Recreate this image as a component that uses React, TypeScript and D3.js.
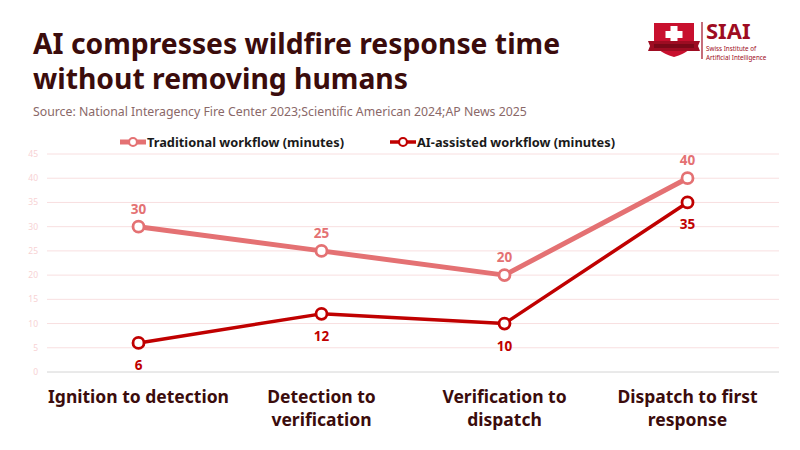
import React, { useEffect, useRef } from 'react';
import * as d3 from 'd3';

const categories = ['Ignition to detection', 'Detection to verification', 'Verification to dispatch', 'Dispatch to first response'];
const traditional = [30, 25, 20, 40];
const aiAssisted = [6, 12, 10, 35];
const yTicks = [0, 5, 10, 15, 20, 25, 30, 35, 40, 45];

const FONT = "'Noto Sans', 'Open Sans', sans-serif";

const App: React.FC = () => {
  const svgRef = useRef<SVGSVGElement | null>(null);

  useEffect(() => {
    if (!svgRef.current) return;
    const svg = d3.select(svgRef.current);
    svg.selectAll('*').remove();
    const width = 800;
    const height = 450;
    const margin = { top: 154, right: 21, bottom: 78, left: 47 };

    svg.append('rect').attr('width', width).attr('height', height).attr('fill', '#fff');

    // title
    const title = svg.append('text')
      .attr('font-family', FONT).attr('font-weight', 700).attr('font-size', 28.3)
      .attr('fill', '#3b0c0c');
    title.append('tspan').attr('x', 33).attr('y', 54).text('AI compresses wildfire response time');
    title.append('tspan').attr('x', 33).attr('y', 89).text('without removing humans');

    svg.append('text')
      .attr('x', 33).attr('y', 116)
      .attr('font-family', FONT).attr('font-size', 12.3)
      .attr('fill', '#8a6868')
      .text('Source: National Interagency Fire Center 2023;Scientific American 2024;AP News 2025');

    // logo
    const logo = svg.append('g').attr('transform', 'translate(648,20)');
    logo.append('path')
      .attr('d', 'M6,3 L46,3 L46,20 Q46,31 26,37 Q6,31 6,20 Z')
      .attr('fill', '#c8102e');
    logo.append('rect').attr('x', 22.5).attr('y', 6).attr('width', 7).attr('height', 17).attr('fill', '#fff');
    logo.append('rect').attr('x', 17.5).attr('y', 11).attr('width', 17).attr('height', 7).attr('fill', '#fff');
    logo.append('path')
      .attr('d', 'M0,21 L52,21 L50,26 L52,31 L0,31 L2,26 Z')
      .attr('fill', '#9e0c22');
    logo.append('rect').attr('x', 6).attr('y', 24).attr('width', 40).attr('height', 4).attr('fill', '#7a0818');
    logo.append('line').attr('x1', 54).attr('x2', 54).attr('y1', 2).attr('y2', 39)
      .attr('stroke', '#9e0c22').attr('stroke-width', 1.2);
    logo.append('text').attr('x', 58).attr('y', 19)
      .attr('font-family', FONT).attr('font-weight', 700).attr('font-size', 22)
      .attr('fill', '#9e0c22').text('SIAI');
    logo.append('text').attr('x', 58).attr('y', 31)
      .attr('font-family', FONT).attr('font-size', 6.3)
      .attr('fill', '#9e0c22').text('Swiss Institute of');
    logo.append('text').attr('x', 58).attr('y', 39.5)
      .attr('font-family', FONT).attr('font-size', 6.3)
      .attr('fill', '#9e0c22').text('Artificial Intelligence');

    const x = d3.scaleBand()
      .domain(categories)
      .range([margin.left, width - margin.right])
      .padding(0);

    const y = d3.scaleLinear()
      .domain([0, 45])
      .range([height - margin.bottom, margin.top]);

    // grid
    svg.append('g')
      .selectAll('line')
      .data(yTicks)
      .join('line')
      .attr('x1', margin.left)
      .attr('x2', width - margin.right)
      .attr('y1', d => y(d))
      .attr('y2', d => y(d))
      .attr('stroke', d => (d === 0 ? '#d4d4d4' : '#f8dfe0'))
      .attr('stroke-width', 1);

    svg.append('g')
      .selectAll('text')
      .data(yTicks)
      .join('text')
      .attr('x', 38)
      .attr('y', d => y(d) + 3)
      .attr('text-anchor', 'end')
      .attr('font-family', FONT)
      .attr('font-size', 8.5)
      .attr('fill', '#f7d2d4')
      .text(d => d);

    // category labels with wrapping
    const cx = (c: string) => (x(c) as number) + x.bandwidth() / 2;
    categories.forEach(c => {
      const t = svg.append('text')
        .attr('text-anchor', 'middle')
        .attr('font-family', FONT)
        .attr('font-weight', 700)
        .attr('font-size', 17.5)
        .attr('fill', '#3b0c0c');
      const words = c.split(' ');
      let line: string[] = [];
      let lineNo = 0;
      let tspan = t.append('tspan').attr('x', cx(c)).attr('y', 403);
      words.forEach(w => {
        line.push(w);
        tspan.text(line.join(' '));
        if ((tspan.node() as SVGTSpanElement).getComputedTextLength() > 195 && line.length > 1) {
          line.pop();
          tspan.text(line.join(' '));
          line = [w];
          lineNo += 1;
          tspan = t.append('tspan').attr('x', cx(c)).attr('y', 403 + lineNo * 23).text(w);
        }
      });
    });

    const series = [
      { name: 'Traditional workflow (minutes)', values: traditional, color: '#e47173', width: 5, above: true },
      { name: 'AI-assisted workflow (minutes)', values: aiAssisted, color: '#c00000', width: 3.5, above: false },
    ];

    series.forEach(s => {
      const line = d3.line<number>()
        .x((_, i) => cx(categories[i]))
        .y(d => y(d));
      svg.append('path')
        .datum(s.values)
        .attr('fill', 'none')
        .attr('stroke', s.color)
        .attr('stroke-width', s.width)
        .attr('stroke-linejoin', 'round')
        .attr('d', line);
      svg.append('g')
        .selectAll('circle')
        .data(s.values)
        .join('circle')
        .attr('cx', (_, i) => cx(categories[i]))
        .attr('cy', d => y(d))
        .attr('r', 5.5)
        .attr('fill', '#fff')
        .attr('stroke', s.color)
        .attr('stroke-width', 2.8);
      svg.append('g')
        .selectAll('text')
        .data(s.values)
        .join('text')
        .attr('x', (_, i) => cx(categories[i]))
        .attr('y', d => y(d) + (s.above ? -13 : 27))
        .attr('text-anchor', 'middle')
        .attr('font-family', FONT)
        .attr('font-weight', 700)
        .attr('font-size', 13.5)
        .attr('fill', s.color)
        .text(d => d);
    });

    // legend
    const legendX = [120, 390];
    series.forEach((s, i) => {
      const g = svg.append('g').attr('transform', `translate(${legendX[i]},142)`);
      g.append('line').attr('x1', 0).attr('x2', 26).attr('y1', 0).attr('y2', 0)
        .attr('stroke', s.color).attr('stroke-width', s.width);
      g.append('circle').attr('cx', 13).attr('cy', 0).attr('r', 4)
        .attr('fill', '#fff').attr('stroke', s.color).attr('stroke-width', 2.2);
      g.append('text').attr('x', 27).attr('y', 5)
        .attr('font-family', FONT).attr('font-weight', 700).attr('font-size', 12.8)
        .attr('fill', '#1a1a1a').text(s.name);
    });
  }, []);

  return <svg ref={svgRef} width={800} height={450} viewBox="0 0 800 450" style={{ display: 'block', margin: -8 }} />;
};

export default App;
